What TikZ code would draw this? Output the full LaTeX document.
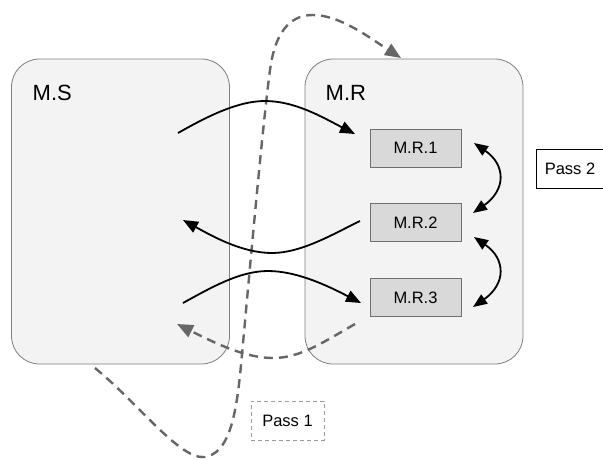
\documentclass[tikz,border=0pt]{standalone}
\usepackage{fontspec}
\setmainfont{Liberation Sans}
\usetikzlibrary{arrows.meta}
\definecolor{bigfill}{HTML}{F3F3F3}
\definecolor{bigline}{HTML}{7F7F7F}
\definecolor{subfill}{HTML}{D9D9D9}
\definecolor{subline}{HTML}{6F6F6F}
\definecolor{dashgray}{HTML}{666666}
\definecolor{passgray}{HTML}{9A9A9A}
\tikzset{
  bigbox/.style={draw=bigline, fill=bigfill, line width=0.8pt, rounded corners=28pt,
    minimum width=218pt, minimum height=305pt, inner sep=0pt},
  subbox/.style={draw=subline, fill=subfill, line width=0.9pt, minimum width=91pt,
    minimum height=38pt, inner sep=0pt, font=\fontsize{16.5}{18}\selectfont},
  biglabel/.style={anchor=west, inner sep=0pt, font=\fontsize{22}{24}\selectfont},
  flow/.style={line width=1.8pt, -{Triangle[length=15pt,width=12pt]}},
  swap/.style={line width=1.8pt, {Triangle[length=14pt,width=11pt]}-{Triangle[length=14pt,width=11pt]}},
  pass/.style={line width=2.4pt, dashgray, dash pattern=on 9pt off 6pt},
  passtip/.style={-{Triangle[length=16pt,width=13pt]}},
  passbox/.style={inner sep=0pt, minimum width=73pt, minimum height=39pt,
    font=\fontsize{16.5}{18}\selectfont}
}
\begin{document}
\begin{tikzpicture}[x=1pt,y=-1pt]
\useasboundingbox (0,0) rectangle (603,459);

% big containers
\node[bigbox] (MS) at (120.5,211.5) {};
\node[bigbox] (MR) at (414,211.5) {};
\node[biglabel] (MSlab) at (32.5,93) {M.S};
\node[biglabel] (MRlab) at (325.5,93) {M.R};

% sub boxes
\node[subbox] (MR1) at (415.5,148) {M.R.1};
\node[subbox] (MR2) at (415.5,222.5) {M.R.2};
\node[subbox] (MR3) at (415.5,297.5) {M.R.3};

% pass labels
\node[passbox, draw=passgray, line width=0.9pt, dash pattern=on 4pt off 3pt] (P1) at (287.5,420.5) {Pass 1};
\node[passbox, draw=black, line width=1pt, minimum width=68pt] (P2) at (570,168.5) {Pass 2};

% free ends
\coordinate (a1s) at (178,133);
\coordinate (a1e) at (355,134);
\coordinate (a2s) at (360,221);
\coordinate (a2e) at (183,220);
\coordinate (a3s) at (183,303);
\coordinate (a3e) at (361,303);
\coordinate (s1a) at (474,143);
\coordinate (s1b) at (473,213);
\coordinate (s2a) at (474,237);
\coordinate (s2b) at (473,307);
\coordinate (pAs) at (95,368);
\coordinate (pAe) at (401,58);
\coordinate (pBs) at (355,324);
\coordinate (pBe) at (177,324);

% dashed pass 1 paths
\draw[pass, passtip] (pAs) .. controls (140,405) and (180,460) .. (205,457)
   .. controls (228,453) and (236,420) .. (241,365)
   .. controls (248,290) and (262,130) .. (270,70)
   .. controls (276,25) and (295,15) .. (313,15)
   .. controls (340,15) and (370,38) .. (pAe);
\draw[pass, passtip] (pBs) .. controls (322,343) and (300,358) .. (273,358)
   .. controls (245,358) and (215,343) .. (pBe);

% solid flows
\draw[flow] (a1s) .. controls (208,116) and (238,101) .. (265,101)
   .. controls (295,101) and (322,117) .. (a1e);
\draw[flow] (a2s) .. controls (335,233) and (302,253) .. (272,253)
   .. controls (242,253) and (212,236) .. (a2e);
\draw[flow] (a3s) .. controls (212,287) and (240,271) .. (268,271)
   .. controls (298,271) and (330,287) .. (a3e);

% swaps
\draw[swap] (s1a) .. controls (506,165) and (506,190) .. (s1b);
\draw[swap] (s2a) .. controls (506,259) and (506,284) .. (s2b);
\end{tikzpicture}
\end{document}
